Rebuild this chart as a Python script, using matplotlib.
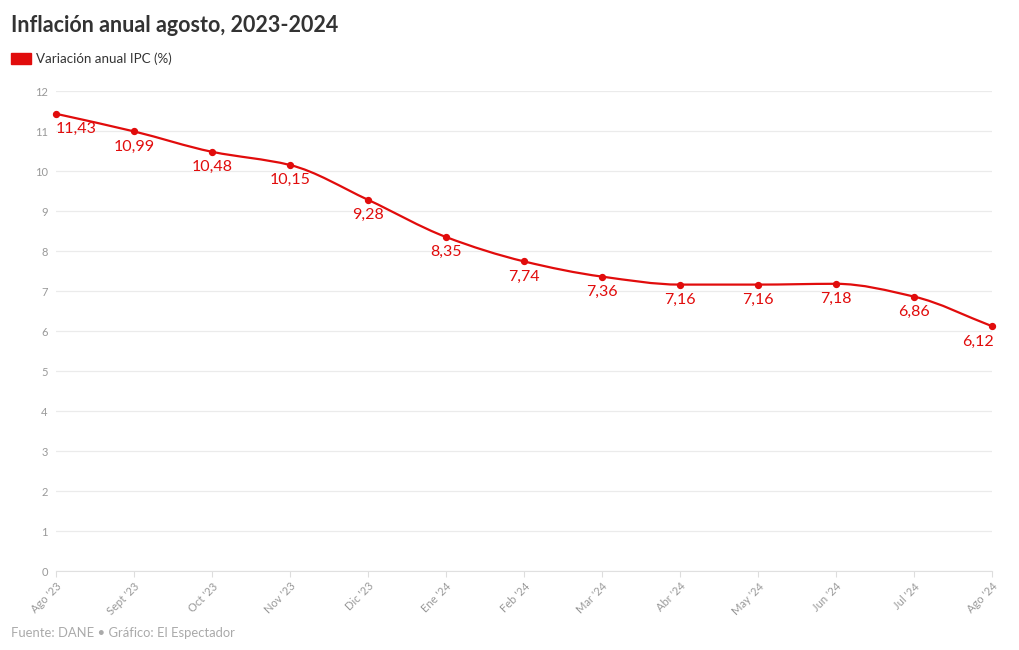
import numpy as np
import matplotlib
matplotlib.use("Agg")
import matplotlib.pyplot as plt
from matplotlib.path import Path
from matplotlib.patches import PathPatch, Rectangle

plt.rcParams['font.family'] = ['Lato', 'DejaVu Sans']

meses = ["Ago '23", "Sept '23", "Oct '23", "Nov '23", "Dic '23", "Ene '24", "Feb '24",
         "Mar '24", "Abr '24", "May '24", "Jun '24", "Jul '24", "Ago '24"]
ipc = [11.43, 10.99, 10.48, 10.15, 9.28, 8.35, 7.74, 7.36, 7.16, 7.16, 7.18, 6.86, 6.12]
etiquetas = ["11,43", "10,99", "10,48", "10,15", "9,28", "8,35", "7,74",
             "7,36", "7,16", "7,16", "7,18", "6,86", "6,12"]

rojo = '#e10c0c'

fig = plt.figure(figsize=(10.2, 6.5), dpi=100)
fig.set_facecolor('white')
ax = fig.add_axes([56 / 1020, 1 - 571 / 650, 936 / 1020, 480 / 650])

x = np.arange(len(ipc))
y = np.array(ipc)

# curva suave tipo monotoneX: tangentes Fritsch-Carlson y segmentos Bezier
d = np.diff(y)
m = np.zeros_like(y)
m[0], m[-1] = d[0], d[-1]
for i in range(1, len(y) - 1):
    if d[i - 1] * d[i] <= 0:
        m[i] = 0
    else:
        m[i] = 2 / (1 / d[i - 1] + 1 / d[i])
verts = [(x[0], y[0])]
codes = [Path.MOVETO]
for i in range(len(y) - 1):
    verts += [(x[i] + 1 / 3, y[i] + m[i] / 3),
              (x[i + 1] - 1 / 3, y[i + 1] - m[i + 1] / 3),
              (x[i + 1], y[i + 1])]
    codes += [Path.CURVE4] * 3
ax.add_patch(PathPatch(Path(verts, codes), facecolor='none', edgecolor=rojo,
                       lw=1.6, zorder=3, clip_on=False))
ax.scatter(x, y, s=18, color=rojo, zorder=4, clip_on=False)

for i, (xi, yi, t) in enumerate(zip(x, y, etiquetas)):
    ha = 'center'
    dx = 0
    if i == 0:
        ha, dx = 'left', 0
    elif i == len(x) - 1:
        ha, dx = 'right', 1
    ax.annotate(t, (xi, yi), xytext=(dx, -6), textcoords='offset points',
                ha=ha, va='top', fontsize=11.5, color=rojo, zorder=5)

ax.set_xlim(0, len(x) - 1)
ax.set_ylim(0, 12)
ax.set_yticks(range(0, 13))
ax.set_xticks(x)
ax.set_xticklabels(meses, rotation=45, ha='right', rotation_mode='anchor')
ax.grid(axis='y', color='#ebebeb', lw=0.9)
ax.set_axisbelow(True)
for s in ['top', 'right', 'left']:
    ax.spines[s].set_visible(False)
ax.spines['bottom'].set_color('#e0e0e0')
ax.tick_params(axis='y', length=0, labelsize=8, labelcolor='#999999', pad=6)
ax.tick_params(axis='x', length=4, color='#dddddd', labelsize=8,
               labelcolor='#999999', pad=3)

fig.text(11 / 1020, 1 - 25 / 650, "Inflación anual agosto, 2023-2024",
         fontsize=15.5, fontweight='bold', color='#333333', va='center')
fig.patches.append(Rectangle((11 / 1020, 1 - 64 / 650), 20 / 1020, 11 / 650,
                             transform=fig.transFigure, color=rojo))
fig.text(36 / 1020, 1 - 59 / 650, "Variación anual IPC (%)",
         fontsize=9.6, color='#333333', va='center')
fig.text(11 / 1020, 1 - 633 / 650, "Fuente: DANE • Gráfico: El Espectador",
         fontsize=9.4, color='#aaaaaa', va='center')

fig.savefig('out.png', dpi=100, facecolor='white')
